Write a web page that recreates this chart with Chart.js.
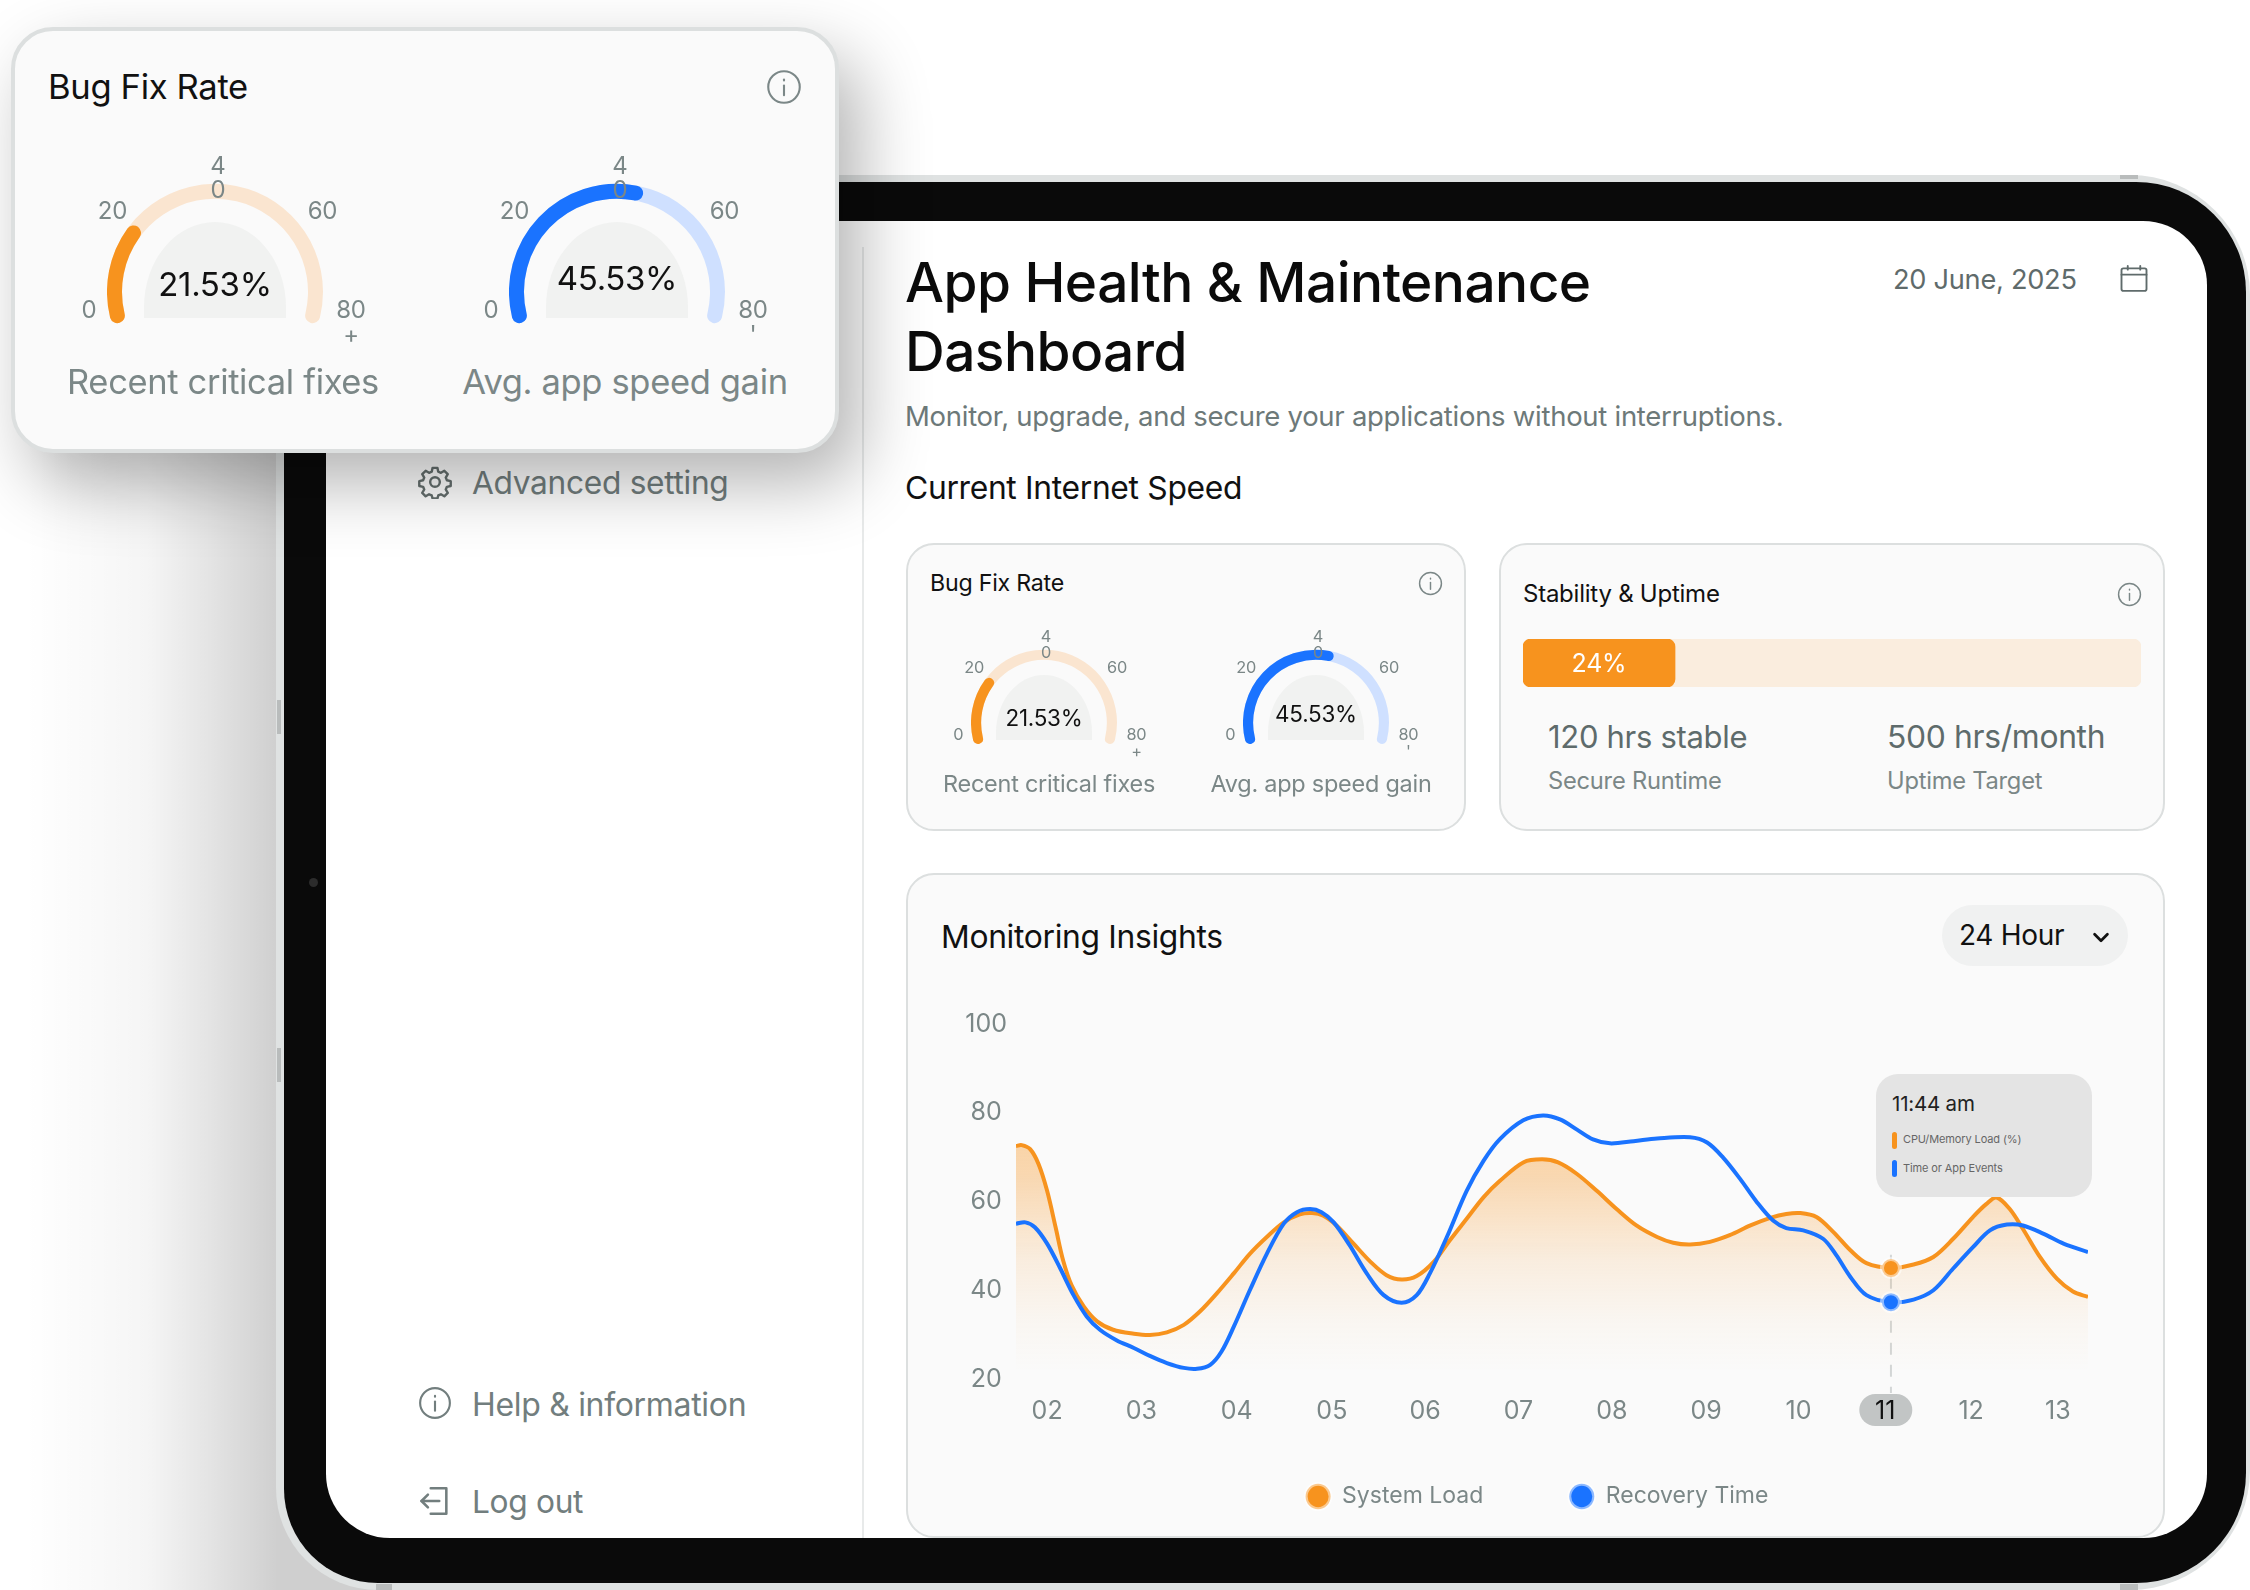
<!DOCTYPE html>
<html>
<head>
<meta charset="utf-8">
<title>App Health & Maintenance Dashboard</title>
<script src="https://cdn.jsdelivr.net/npm/chart.js@4"></script>
<style>
html, body { margin: 0; padding: 0; background: #fff; }
body { width: 2250px; height: 1590px; overflow: hidden; position: relative; font-family: "Inter", sans-serif; }
.box, .txt, canvas, svg { position: absolute; }
.txt { white-space: nowrap; transform: translateY(-50%); line-height: 1.2; letter-spacing: -0.01em; }
.sideglow { left: 0; top: 300px; width: 396px; height: 1290px; background: linear-gradient(to right, rgba(0,0,0,0) 6%, rgba(0,0,0,.04) 37%, rgba(0,0,0,.10) 52%, rgba(0,0,0,.19) 70%); }
.shell { left: 276px; top: 175px; width: 1974px; height: 1415px; box-sizing: border-box; background: #dfe2e2; border-radius: 150px 120px 120px 102px; }
.bezel { left: 284px; top: 182px; width: 1962px; height: 1401px; background: #0a0a0a; border-radius: 135px 110px 110px 94px; }
.screen { left: 326px; top: 221px; width: 1881px; height: 1317px; background: #fff; border-radius: 64px; overflow: hidden; }
.card { box-sizing: border-box; background: #fafafa; border: 2px solid #dcdfdf; border-radius: 28px; }
.popup { left: 11px; top: 27px; width: 828px; height: 426px; box-sizing: border-box; background: #fafafa; border: 4px solid #dcdfdf; border-radius: 42px; box-shadow: 20px 30px 70px rgba(0,0,0,.30); }
</style>
</head>
<body>
<script>
// Monitoring chart data
const tickLabels = ["02", "03", "04", "05", "06", "07", "08", "09", "10", "11", "12", "13"]
const tickPositions = [2, 3, 4.01, 5.02, 6.01, 7, 7.99, 8.99, 9.97, 10.89, 11.8, 12.72]
const yTicks = [20, 40, 60, 80, 100]

const loadHours = [1.67, 1.73, 1.82, 1.91, 2.00, 2.09, 2.17, 2.26, 2.39, 2.53, 2.70, 2.92, 3.09, 3.27, 3.45, 3.62, 3.80, 3.98, 4.15, 4.33, 4.51, 4.68, 4.81, 4.93, 5.07, 5.25, 5.43, 5.60, 5.76, 5.92, 6.10, 6.27, 6.45, 6.63, 6.80, 7.05, 7.25, 7.42, 7.62, 7.83, 8.04, 8.25, 8.47, 8.64, 8.82, 9.03, 9.24, 9.46, 9.67, 9.84, 9.99, 10.16, 10.34, 10.52, 10.69, 10.95, 11.19, 11.40, 11.61, 11.82, 11.96, 12.07, 12.21, 12.35, 12.53, 12.71, 12.88, 13.04]
const loadValues = [72.5, 72.7, 71.8, 68.4, 62.4, 54.2, 46.7, 41.1, 36.3, 33.0, 31.1, 30.2, 29.9, 30.5, 32.2, 35.2, 39.3, 43.8, 48.2, 52.0, 55.3, 57.1, 57.4, 56.8, 54.6, 50.5, 46.4, 43.4, 42.4, 43.2, 46.4, 51.2, 56.1, 61.0, 64.6, 68.8, 69.5, 68.8, 66.2, 62.4, 58.3, 54.6, 52.0, 50.7, 50.3, 50.9, 52.4, 54.6, 56.3, 57.2, 57.4, 56.5, 53.1, 49.0, 46.1, 45.0, 45.8, 47.5, 51.6, 56.5, 59.4, 60.9, 58.3, 53.8, 47.5, 42.6, 39.7, 38.5]

const recoveryHours = [1.67, 1.77, 1.87, 2.00, 2.14, 2.28, 2.42, 2.56, 2.74, 2.92, 3.09, 3.27, 3.45, 3.59, 3.73, 3.85, 3.98, 4.15, 4.33, 4.51, 4.65, 4.79, 4.91, 5.04, 5.21, 5.39, 5.57, 5.76, 5.92, 6.06, 6.24, 6.45, 6.63, 6.80, 7.05, 7.26, 7.44, 7.62, 7.79, 7.97, 8.22, 8.47, 8.82, 9.00, 9.17, 9.35, 9.53, 9.70, 9.84, 10.02, 10.23, 10.37, 10.52, 10.69, 10.95, 11.19, 11.40, 11.61, 11.82, 12.00, 12.18, 12.35, 12.57, 12.78, 13.04]
const recoveryValues = [55.0, 55.3, 54.2, 50.5, 44.9, 38.9, 34.1, 31.1, 28.7, 27.0, 25.2, 23.6, 22.5, 22.3, 23.2, 26.2, 31.8, 40.0, 48.2, 55.0, 57.6, 58.3, 57.6, 55.3, 50.1, 43.8, 38.9, 37.2, 38.9, 43.8, 52.0, 62.4, 69.2, 74.0, 78.3, 79.4, 78.5, 76.2, 74.0, 73.1, 73.6, 74.2, 74.5, 73.3, 69.9, 65.1, 59.8, 55.7, 54.0, 53.5, 51.6, 47.9, 43.0, 38.9, 37.3, 37.9, 40.0, 44.9, 49.7, 53.5, 54.8, 54.6, 52.7, 50.5, 48.6]

const activeTick = 9
const activeHour = 10.95

// Gauge and progress data
const gaugeMax = 80
const fixesValue = 21.53
const speedValue = 45.53
const uptimeLabel = "24%"
const uptimeFill = 24.6

const ORANGE = "#f7931e"
const BLUE = "#1a73ff"
const MUTED = "#7b8787"
const SIDE = "#727e7e"
const DARK = "#111"

Chart.defaults.font.family = "Inter"
Chart.defaults.animation = false

function addBox(cls, style, parent) {
    let el = document.createElement("div")
    el.className = "box " + cls
    if (style) el.style.cssText = style
    ;(parent || document.body).appendChild(el)
    return el
}

function addText(text, x, y, size, color, anchor, weight) {
    let el = document.createElement("div")
    el.className = "txt"
    el.textContent = text
    el.style.top = y + "px"
    el.style.fontSize = size + "px"
    el.style.color = color
    if (weight) el.style.fontWeight = weight
    if (anchor == "center") {
        el.style.left = x + "px"
        el.style.transform = "translate(-50%,-50%)"
    } else {
        el.style.left = x + "px"
    }
    document.body.appendChild(el)
    return el
}

function addCanvas(x, y, w, h) {
    let c = document.createElement("canvas")
    c.width = w
    c.height = h
    c.style.left = x + "px"
    c.style.top = y + "px"
    c.style.width = w + "px"
    c.style.height = h + "px"
    document.body.appendChild(c)
    return c
}

function addSvg(x, y, size, color, inner, sw) {
    let holder = document.createElement("div")
    holder.innerHTML = '<svg xmlns="http://www.w3.org/2000/svg" viewBox="0 0 24 24" width="' + size + '" height="' + size + '" fill="none" stroke="' + color + '" stroke-width="' + (sw || 1.6) + '" stroke-linecap="round" stroke-linejoin="round" style="left:' + (x - size / 2) + 'px;top:' + (y - size / 2) + 'px">' + inner + '</svg>'
    document.body.appendChild(holder.firstChild)
}

const infoIcon = '<circle cx="12" cy="12" r="10.5"/><path d="M12 11v6.5"/><path d="M12 7v.6"/>'
const gearIcon = '<circle cx="12" cy="12" r="3.4"/><path d="M10.3 2.5h3.4l.6 2.7 1.9.8 2.4-1.4 2.4 2.4-1.4 2.4.8 1.9 2.7.6v3.4l-2.7.6-.8 1.9 1.4 2.4-2.4 2.4-2.4-1.4-1.9.8-.6 2.2h-3.4l-.6-2.2-1.9-.8-2.4 1.4-2.4-2.4 1.4-2.4-.8-1.9-2.7-.6v-3.4l2.7-.6.8-1.9-1.4-2.4 2.4-2.4 2.4 1.4 1.9-.8z" transform="translate(0 -.5)"/>'
const logoutIcon = '<path d="M9 3h11v18H9"/><path d="M15 12H2.5"/><path d="M7 7.5L2.5 12 7 16.5"/>'
const calendarIcon = '<rect x="2" y="3.5" width="20" height="18" rx="1.5"/><path d="M2 8.5h20"/><path d="M7 1.5v3"/><path d="M17 1.5v3"/>'

// One gauge: track chart, value chart and its labels. k scales it from the popup size.
function addGauge(cx, cy, k, value, color, trackColor, lastMark, caption, captionX, valueDy) {
    const r = Math.round(108 * k)
    const cutout = (100 * (1 - 15 / 108)) + "%"
    addBox("", "left:" + (cx - 71 * k) + "px;top:" + (cy - 69 * k) + "px;width:" + (142 * k) + "px;height:" + (96 * k) + "px;background:#f1f2f1;border-radius:" + (71 * k) + "px " + (71 * k) + "px 0 0 / " + (85 * k) + "px " + (85 * k) + "px 0 0")

    const charts = [
        { data: [gaugeMax], colors: [trackColor] },
        { data: [value, gaugeMax - value], colors: [color, "rgba(0,0,0,0)"] },
    ]
    for (let item of charts) {
        let c = addCanvas(cx - r, cy - r, 2 * r, Math.ceil(1.32 * r))
        new Chart(c, {
            type: "doughnut",
            data: { datasets: [{ data: item.data, backgroundColor: item.colors, borderWidth: 0, borderRadius: 7.5 * k }] },
            options: {
                responsive: false,
                rotation: -108,
                circumference: 216,
                cutout: cutout,
                layout: { padding: 0 },
                events: [],
                plugins: { legend: { display: false }, tooltip: { enabled: false } },
            },
        })
    }

    const fs = 24 * k
    addText("0", cx - 126 * k, cy + 19 * k, fs, MUTED, "center")
    addText("20", cx - 102.5 * k, cy - 80 * k, fs, MUTED, "center")
    addText("4", cx + 3 * k, cy - 125 * k, fs, MUTED, "center")
    addText("0", cx + 3 * k, cy - 101 * k, fs, MUTED, "center")
    addText("60", cx + 107.5 * k, cy - 80 * k, fs, MUTED, "center")
    addText("80", cx + 136 * k, cy + 19 * k, fs, MUTED, "center")
    addText(lastMark, cx + 136 * k, cy + 44 * k, fs, MUTED, "center")
    addText(value + "%", cx, cy + valueDy * k, 33 * k, DARK, "center")
    addText(caption, captionX, cy + 91 * k, 34.5 * k, MUTED, "center")
}

// Page, tablet frame
addBox("sideglow")
addBox("shell")
addBox("bezel")
addBox("screen")
addBox("", "left:277px;top:700px;width:4px;height:34px;background:#b9bcbc")
addBox("", "left:277px;top:1048px;width:4px;height:34px;background:#b9bcbc")
addBox("", "left:2120px;top:175px;width:18px;height:4px;background:#b9bcbc")
addBox("", "left:376px;top:1584px;width:16px;height:6px;background:#b9bcbc")
addBox("", "left:2120px;top:1584px;width:18px;height:6px;background:#b9bcbc")
addBox("", "left:309px;top:878px;width:9px;height:9px;border-radius:50%;background:#2c2c2c")

// Sidebar
addBox("", "left:862px;top:247px;width:2px;height:1291px;background:#e8eaea")
addSvg(435, 482, 34, "#66706f", gearIcon, 1.7)
addText("Advanced setting", 472, 483, 31.7, SIDE)
addSvg(435, 1403, 34, SIDE, infoIcon, 1.5)
addText("Help & information", 472, 1405, 32, SIDE)
addSvg(435, 1501, 34, SIDE, logoutIcon, 1.8)
addText("Log out", 472, 1502, 31.7, SIDE)

// Header
addText("App Health & Maintenance", 905, 281.5, 55, "#0b0b0b", null, 500)
addText("Dashboard", 905, 350.5, 55, "#0b0b0b", null, 500)
addText("Monitor, upgrade, and secure your applications without interruptions.", 905, 416, 27.5, "#6d7979")
addText("Current Internet Speed", 905, 488, 31.8, DARK)
addText("20 June, 2025", 1893, 280, 27.2, "#5f6b6b")
addSvg(2134, 279, 30, "#5f6b6b", calendarIcon, 1.5)

// Bug fix card
addBox("card", "left:906px;top:543px;width:560px;height:288px")
addText("Bug Fix Rate", 930, 584, 23.2, DARK)
addSvg(1430, 583, 25, MUTED, infoIcon, 1.4)
addGauge(1044, 722, 0.68, fixesValue, ORANGE, "#fae5d0", "+", "Recent critical fixes", 1049, -6)
addGauge(1316, 722, 0.68, speedValue, BLUE, "#cfe0ff", "'", "Avg. app speed gain", 1321, -12)

// Stability card
addBox("card", "left:1499px;top:543px;width:666px;height:288px")
addText("Stability & Uptime", 1523, 594, 24, DARK)
addSvg(2129, 594, 25, MUTED, infoIcon, 1.4)
let barCanvas = addCanvas(1523, 639, 618, 48)
new Chart(barCanvas, {
    type: "bar",
    data: {
        labels: ["Uptime"],
        datasets: [
            { data: [uptimeFill], backgroundColor: ORANGE, grouped: false, borderRadius: 8, borderSkipped: false, barPercentage: 1, categoryPercentage: 1 },
            { data: [100], backgroundColor: "#faedde", grouped: false, borderRadius: 8, borderSkipped: false, barPercentage: 1, categoryPercentage: 1 },
        ],
    },
    options: {
        indexAxis: "y",
        responsive: false,
        events: [],
        layout: { padding: 0 },
        scales: {
            x: { display: false, min: 0, max: 100 },
            y: { display: false },
        },
        plugins: { legend: { display: false }, tooltip: { enabled: false } },
    },
})
addText(uptimeLabel, 1599, 663, 25, "#fff", "center")
addText("120 hrs stable", 1548, 737, 31, "#5e6b6b")
addText("500 hrs/month", 1887, 737, 31.8, "#5e6b6b")
addText("Secure Runtime", 1548, 781, 23.7, MUTED)
addText("Uptime Target", 1887, 781, 23.7, MUTED)

// Monitoring card
addBox("card", "left:906px;top:873px;width:1259px;height:665px")
addText("Monitoring Insights", 941, 937, 31.8, DARK)
addBox("", "left:1942px;top:905px;width:186px;height:61px;background:#f0f1f1;border-radius:31px")
addText("24 Hour", 1959, 936, 28, DARK)
addSvg(2101, 937, 22, DARK, '<path d="M5 9l7 7 7-7"/>', 3)

// Pill under the active tick, dashed marker line above it
const highlightPlugin = {
    id: "highlight",
    afterLayout(chart) {
        // axis boxes are narrower than their labels so the legend centres right,
        // labels would be clipped otherwise
        chart.scales.x.bottom += 50
        chart.scales.y.left -= 46
    },
    beforeDraw(chart) {
        const ctx = chart.ctx
        const px = chart.scales.x.getPixelForValue(tickPositions[activeTick])
        const top = chart.chartArea.bottom + 15
        ctx.save()
        ctx.fillStyle = "#c2c5c5"
        ctx.beginPath()
        ctx.roundRect(px - 26, top, 53, 32, 16)
        ctx.fill()
        ctx.restore()
    },
    beforeDatasetsDraw(chart) {
        const ctx = chart.ctx
        const px = chart.scales.x.getPixelForValue(activeHour)
        ctx.save()
        ctx.strokeStyle = "#d3d6d6"
        ctx.lineWidth = 2
        ctx.setLineDash([12, 10])
        ctx.beginPath()
        ctx.moveTo(px, chart.scales.y.getPixelForValue(48))
        ctx.lineTo(px, chart.chartArea.bottom + 14)
        ctx.stroke()
        ctx.restore()
    },
}

function toPoints(hours, values) {
    return hours.map((h, i) => ({ x: h, y: values[i] }))
}

function areaGradient(context) {
    const area = context.chart.chartArea
    if (!area) return "rgba(0,0,0,0)"
    let g = context.chart.ctx.createLinearGradient(0, area.top, 0, area.bottom)
    g.addColorStop(0.06, "rgba(247,147,30,0.50)")
    g.addColorStop(0.415, "rgba(247,147,30,0.34)")
    g.addColorStop(0.667, "rgba(247,147,30,0.12)")
    g.addColorStop(0.835, "rgba(247,147,30,0.04)")
    g.addColorStop(0.98, "rgba(247,147,30,0)")
    return g
}

function activeRadius(hours) {
    return (ctx) => hours[ctx.dataIndex] == activeHour ? 9 : 0
}

let lineCanvas = addCanvas(940, 1000, 1188, 518)
new Chart(lineCanvas, {
    type: "line",
    data: {
        datasets: [
            {
                label: "System Load",
                data: toPoints(loadHours, loadValues),
                borderColor: ORANGE,
                backgroundColor: ORANGE,
                borderWidth: 4,
                tension: 0.33,
                order: 2,
                fill: { target: "start", above: areaGradient },
                pointRadius: activeRadius(loadHours),
                pointBackgroundColor: ORANGE,
                pointBorderColor: "rgba(255,255,255,0.5)",
                pointBorderWidth: 4,
            },
            {
                label: "Recovery Time",
                data: toPoints(recoveryHours, recoveryValues),
                borderColor: BLUE,
                backgroundColor: BLUE,
                borderWidth: 4,
                tension: 0.33,
                order: 1,
                fill: false,
                pointRadius: activeRadius(recoveryHours),
                pointBackgroundColor: BLUE,
                pointBorderColor: "rgba(255,255,255,0.5)",
                pointBorderWidth: 4,
            },
        ],
    },
    options: {
        responsive: false,
        events: [],
        layout: { autoPadding: false, padding: { top: 19, right: 40, left: 46, bottom: 0 } },
        scales: {
            x: {
                type: "linear",
                min: 1.67,
                max: 13.04,
                afterBuildTicks(scale) {
                    scale.ticks = tickPositions.map((v) => ({ value: v }))
                },
                afterFit(scale) {
                    scale.height = 20
                },
                grid: { display: false, drawTicks: false },
                border: { display: false },
                ticks: {
                    autoSkip: false,
                    maxRotation: 0,
                    padding: 17,
                    font: { size: 25 },
                    color: (ctx) => ctx.index == activeTick ? DARK : MUTED,
                    callback: (value, index) => tickLabels[index],
                },
            },
            y: {
                min: 20,
                max: 100,
                afterBuildTicks(scale) {
                    scale.ticks = yTicks.map((v) => ({ value: v }))
                },
                afterFit(scale) {
                    scale.width = 30
                },
                grid: { display: false, drawTicks: false },
                border: { display: false },
                ticks: { padding: 9, crossAlign: "center", font: { size: 25 }, color: MUTED },
            },
        },
        plugins: {
            tooltip: { enabled: false },
            legend: {
                position: "bottom",
                labels: {
                    usePointStyle: true,
                    pointStyle: "circle",
                    pointStyleWidth: 25,
                    boxHeight: 18,
                    padding: 86,
                    color: MUTED,
                    font: { size: 23 },
                    sort: (a, b) => a.datasetIndex - b.datasetIndex,
                },
            },
        },
    },
    plugins: [highlightPlugin],
})

// Fixed tooltip card
addBox("", "left:1876px;top:1074px;width:216px;height:123px;background:#e4e4e4;border-radius:22px")
addText("11:44 am", 1892, 1104, 20.5, "#222")
addBox("", "left:1892px;top:1132px;width:5px;height:17px;border-radius:3px;background:" + ORANGE)
addText("CPU/Memory Load (%)", 1903, 1140, 11, "#666")
addBox("", "left:1892px;top:1160px;width:5px;height:17px;border-radius:3px;background:" + BLUE)
addText("Time or App Events", 1903, 1169, 11, "#666")

// Popup card on top of the tablet
addBox("popup")
addText("Bug Fix Rate", 48, 87, 34.6, DARK)
addSvg(784, 87, 36, MUTED, infoIcon, 1.4)
addGauge(215, 291, 1, fixesValue, ORANGE, "#fae5d0", "+", "Recent critical fixes", 223, -6)
addGauge(617, 291, 1, speedValue, BLUE, "#cfe0ff", "'", "Avg. app speed gain", 625, -12)
</script>
</body>
</html>
